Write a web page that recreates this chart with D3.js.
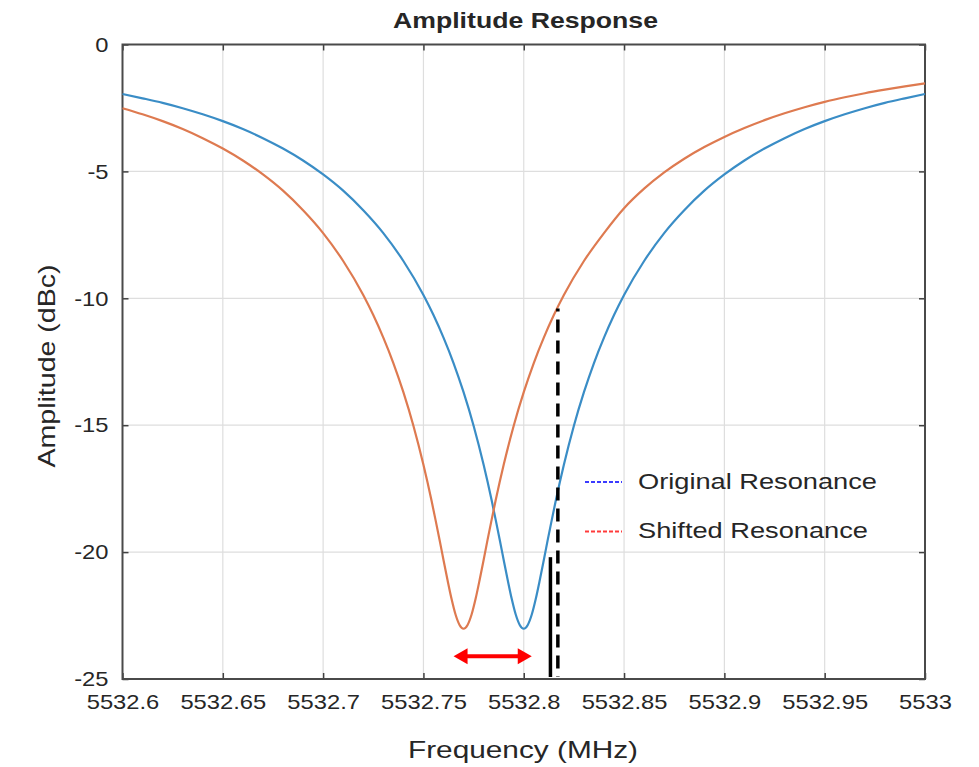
<!DOCTYPE html>
<html>
<head>
<meta charset="UTF-8">
<script src="https://cdn.jsdelivr.net/npm/d3@7/dist/d3.min.js"></script>
<style>
  body { margin: 0; background: #fff; }
  text { font-family: "Liberation Sans", Arial, sans-serif; fill: #262626; }
</style>
</head>
<body>
<svg id="chart" width="979" height="767"></svg>
<script>
// ---- data ----
var xTicks = [5532.6, 5532.65, 5532.7, 5532.75, 5532.8, 5532.85, 5532.9, 5532.95, 5533];
var xTickLabels = ["5532.6", "5532.65", "5532.7", "5532.75", "5532.8", "5532.85", "5532.9", "5532.95", "5533"];
var yTicks = [-25, -20, -15, -10, -5, 0];
var yTickLabels = ["-25", "-20", "-15", "-10", "-5", "0"];

// original resonance (blue)
var origFreq = [5532.6, 5532.61, 5532.62, 5532.63, 5532.64, 5532.65, 5532.66, 5532.67, 5532.68, 5532.69,
  5532.7, 5532.71, 5532.72, 5532.73, 5532.74, 5532.75, 5532.755, 5532.76, 5532.765, 5532.77, 5532.775,
  5532.78, 5532.782, 5532.784, 5532.786, 5532.788, 5532.79, 5532.792, 5532.794, 5532.796, 5532.798,
  5532.8,
  5532.802, 5532.804, 5532.806, 5532.808, 5532.81, 5532.812, 5532.814, 5532.816, 5532.818, 5532.82,
  5532.825, 5532.83, 5532.835, 5532.84, 5532.845, 5532.85, 5532.86, 5532.87, 5532.88, 5532.89,
  5532.9, 5532.91, 5532.92, 5532.93, 5532.94, 5532.95, 5532.96, 5532.97, 5532.98, 5532.99, 5533];
var origAmp = [-1.95, -2.12, -2.30, -2.51, -2.75, -3.02, -3.33, -3.69, -4.10, -4.57,
  -5.12, -5.76, -6.53, -7.43, -8.53, -9.87, -10.66, -11.55, -12.55, -13.70, -15.02,
  -16.56, -17.24, -17.96, -18.72, -19.50, -20.31, -21.10, -21.84, -22.46, -22.87,
  -23.02,
  -22.87, -22.46, -21.84, -21.10, -20.31, -19.50, -18.72, -17.96, -17.24, -16.56,
  -15.02, -13.70, -12.55, -11.55, -10.66, -9.87, -8.53, -7.43, -6.53, -5.76,
  -5.12, -4.57, -4.10, -3.69, -3.33, -3.02, -2.75, -2.51, -2.30, -2.12, -1.95];

// shifted resonance (orange)
var shiftFreq = [5532.6, 5532.61, 5532.62, 5532.63, 5532.64, 5532.65, 5532.66, 5532.67, 5532.68, 5532.69,
  5532.7, 5532.71, 5532.72, 5532.725, 5532.73, 5532.735, 5532.74, 5532.745, 5532.75, 5532.752,
  5532.754, 5532.756, 5532.758, 5532.76, 5532.762, 5532.764, 5532.766, 5532.768,
  5532.77,
  5532.772, 5532.774, 5532.776, 5532.778, 5532.78, 5532.782, 5532.784, 5532.786, 5532.788, 5532.79,
  5532.795, 5532.8, 5532.805, 5532.81, 5532.815, 5532.82, 5532.83, 5532.84, 5532.85, 5532.86,
  5532.87, 5532.88, 5532.89, 5532.9, 5532.91, 5532.92, 5532.93, 5532.94, 5532.95, 5532.96,
  5532.97, 5532.98, 5532.99, 5533];
var shiftAmp = [-2.51, -2.75, -3.02, -3.33, -3.69, -4.10, -4.57, -5.12, -5.76, -6.53,
  -7.43, -8.53, -9.87, -10.66, -11.55, -12.55, -13.70, -15.02, -16.56, -17.24,
  -17.96, -18.72, -19.50, -20.31, -21.10, -21.84, -22.46, -22.87,
  -23.02,
  -22.87, -22.46, -21.84, -21.10, -20.31, -19.50, -18.72, -17.96, -17.24, -16.56,
  -15.02, -13.70, -12.55, -11.55, -10.66, -9.87, -8.53, -7.43, -6.45, -5.68,
  -5.04, -4.50, -4.04, -3.64, -3.29, -2.98, -2.71, -2.47, -2.26, -2.08,
  -1.92, -1.78, -1.65, -1.53];

// annotations
var shiftArrow = [5532.765, 5532.804];   // red double arrow, at -24.1 dBc
var arrowLevel = -24.1;
var solidMark = { f: 5532.8133, top: -20.2 };
var dashMark = { f: 5532.817, top: -10.4 };

var legendNames = ["Original Resonance", "Shifted Resonance"];

// ---- layout ----
var svg = d3.select("#chart");
var L = 122.5, R = 925, T = 44.5, B = 679;

var x = d3.scaleLinear().domain([5532.6, 5533]).range([L, R]);
var y = d3.scaleLinear().domain([-25, 0]).range([B, T]);

function stretch(sel, k) {
  sel.each(function () {
    var w = this.getComputedTextLength();
    d3.select(this).attr("textLength", w * k).attr("lengthAdjust", "spacingAndGlyphs");
  });
}

svg.append("rect").attr("width", 979).attr("height", 767).attr("fill", "#fff");

// grid
var grid = svg.append("g").attr("stroke", "#dedede").attr("stroke-width", 1.2);
grid.selectAll(".gx").data(xTicks.slice(1, -1)).enter().append("line")
  .attr("x1", function (d) { return x(d); }).attr("x2", function (d) { return x(d); })
  .attr("y1", T).attr("y2", B);
grid.selectAll(".gy").data(yTicks.slice(1, -1)).enter().append("line")
  .attr("y1", function (d) { return y(d); }).attr("y2", function (d) { return y(d); })
  .attr("x1", L).attr("x2", R);

// axes
svg.append("g").attr("transform", "translate(0," + B + ")")
  .call(d3.axisBottom(x).tickValues(xTicks).tickSizeInner(-6).tickSizeOuter(0).tickPadding(15)
    .tickFormat(function (d, i) { return xTickLabels[i]; }));
svg.append("g").attr("transform", "translate(" + L + ",0)")
  .call(d3.axisLeft(y).tickValues(yTicks).tickSizeInner(-6).tickSizeOuter(0).tickPadding(14)
    .tickFormat(function (d, i) { return yTickLabels[i]; }));
svg.append("g").attr("transform", "translate(0," + T + ")")
  .call(d3.axisTop(x).tickValues(xTicks).tickSizeInner(-6).tickSizeOuter(0).tickFormat(""));
svg.append("g").attr("transform", "translate(" + R + ",0)")
  .call(d3.axisRight(y).tickValues(yTicks).tickSizeInner(-6).tickSizeOuter(0).tickFormat(""));

svg.selectAll(".domain").remove();
svg.selectAll(".tick line").attr("stroke", "#404040").attr("stroke-width", 1.5);
svg.selectAll(".tick text").attr("font-size", 21).attr("fill", "#262626")
  .style("font-family", "'Liberation Sans', Arial, sans-serif");
stretch(svg.selectAll(".tick text"), 1.13);

svg.append("rect").attr("x", L).attr("y", T).attr("width", R - L).attr("height", B - T)
  .attr("fill", "none").attr("stroke", "#4a4a4a").attr("stroke-width", 2);

// curves
var line = d3.line()
  .x(function (d) { return x(d[0]); })
  .y(function (d) { return y(d[1]); })
  .curve(d3.curveMonotoneX);

svg.append("path").datum(d3.zip(origFreq, origAmp))
  .attr("d", line).attr("fill", "none").attr("stroke", "#3a8dc6").attr("stroke-width", 2.2);
svg.append("path").datum(d3.zip(shiftFreq, shiftAmp))
  .attr("d", line).attr("fill", "none").attr("stroke", "#de7a50").attr("stroke-width", 2.2);

// markers
svg.append("line")
  .attr("x1", x(solidMark.f)).attr("x2", x(solidMark.f))
  .attr("y1", y(solidMark.top)).attr("y2", B - 2)
  .attr("stroke", "#000").attr("stroke-width", 3.5);
svg.append("line")
  .attr("x1", x(dashMark.f)).attr("x2", x(dashMark.f))
  .attr("y1", y(dashMark.top)).attr("y2", B - 2)
  .attr("stroke", "#000").attr("stroke-width", 3.5)
  .attr("stroke-dasharray", "3,8,13,8,13,8,13,8,13,8,13,8,13,8,13,8,13,8,13,8,13,8,13,8,13,8,13,8,13,8,13,8,13,8,13,8");

// red double arrow
var ax1 = x(shiftArrow[0]), ax2 = x(shiftArrow[1]), ay = y(arrowLevel);
var head = 14, half = 8;
svg.append("line").attr("x1", ax1 + head - 2).attr("x2", ax2 - head + 2)
  .attr("y1", ay).attr("y2", ay).attr("stroke", "#ff0000").attr("stroke-width", 4);
svg.append("path")
  .attr("d", "M" + ax1 + "," + ay + "L" + (ax1 + head) + "," + (ay - half) + "L" + (ax1 + head) + "," + (ay + half) + "Z")
  .attr("fill", "#ff0000");
svg.append("path")
  .attr("d", "M" + ax2 + "," + ay + "L" + (ax2 - head) + "," + (ay - half) + "L" + (ax2 - head) + "," + (ay + half) + "Z")
  .attr("fill", "#ff0000");

// legend
var legColors = ["#3b3bff", "#ff3b3b"];
var leg = svg.append("g");
legendNames.forEach(function (name, i) {
  var ly = 482 + i * 49.5;
  leg.append("line").attr("x1", 585).attr("x2", 622).attr("y1", ly).attr("y2", ly)
    .attr("stroke", legColors[i]).attr("stroke-width", 2).attr("stroke-dasharray", "4,2");
  leg.append("text").attr("x", 638).attr("y", ly + 6.5).attr("font-size", 22).text(name);
});
leg.selectAll("text").each(function (d, i) {
  d3.select(this).attr("textLength", i === 0 ? 239 : 230).attr("lengthAdjust", "spacingAndGlyphs");
});

// titles
svg.append("text").attr("x", 525.5).attr("y", 28).attr("text-anchor", "middle")
  .attr("font-size", 22).attr("font-weight", "bold").attr("fill", "#000")
  .attr("textLength", 265).attr("lengthAdjust", "spacingAndGlyphs").text("Amplitude Response");
svg.append("text").attr("x", 523).attr("y", 758).attr("text-anchor", "middle")
  .attr("font-size", 24).attr("textLength", 230).attr("lengthAdjust", "spacingAndGlyphs")
  .text("Frequency (MHz)");
svg.append("text").attr("transform", "translate(55,366) rotate(-90)").attr("text-anchor", "middle")
  .attr("font-size", 24).attr("textLength", 203).attr("lengthAdjust", "spacingAndGlyphs")
  .text("Amplitude (dBc)");
</script>
</body>
</html>
